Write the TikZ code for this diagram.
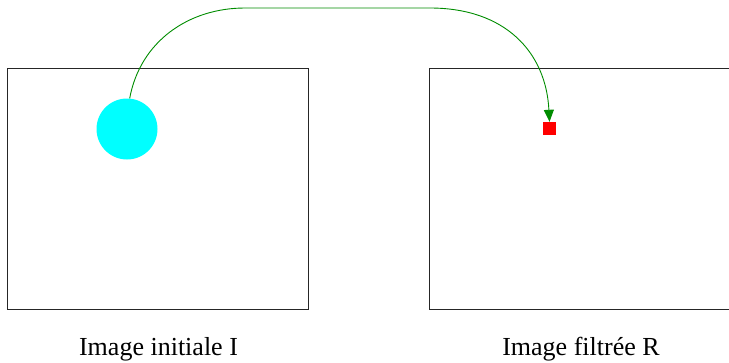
\documentclass[tikz,border=0pt]{standalone}
\usepackage{fontspec}
\setmainfont{Liberation Serif}
\usetikzlibrary{arrows.meta}
\definecolor{arrgreen}{RGB}{0,140,0}
\definecolor{aqua}{RGB}{0,255,255}
\definecolor{pured}{RGB}{255,0,0}
\tikzset{
  frame/.style={draw=black!85, line width=1pt, minimum width=301pt, minimum height=241pt, inner sep=0pt},
  lbl/.style={font=\fontsize{26}{30}\selectfont, inner sep=0pt},
  flow/.style={draw=arrgreen, line width=0.9pt, -{Triangle[length=12pt,width=10pt]}}
}
\begin{document}
\begin{tikzpicture}[x=1pt,y=-1pt]
\useasboundingbox (0,0) rectangle (729,362);
\node[frame] (left) at (157.5,188.5) {};
\node[frame] (right) at (580,188.5) {};
\node[circle, fill=aqua, minimum size=61pt, inner sep=0pt] (c) at (127,129) {};
\node[rectangle, fill=pured, minimum size=13pt, inner sep=0pt] (s) at (549.5,128.5) {};
\coordinate (k1) at (245,8);
\coordinate (k2) at (430,8);
\draw[flow] (c.85) .. controls (140,42) and (188,8) .. (k1) -- (k2) .. controls (505,8) and (546,52) .. (s.north);
\node[lbl] (l1) at (158.5,349) {Image initiale I};
\node[lbl] (l2) at (581,349) {Image filtrée R};
\end{tikzpicture}
\end{document}
